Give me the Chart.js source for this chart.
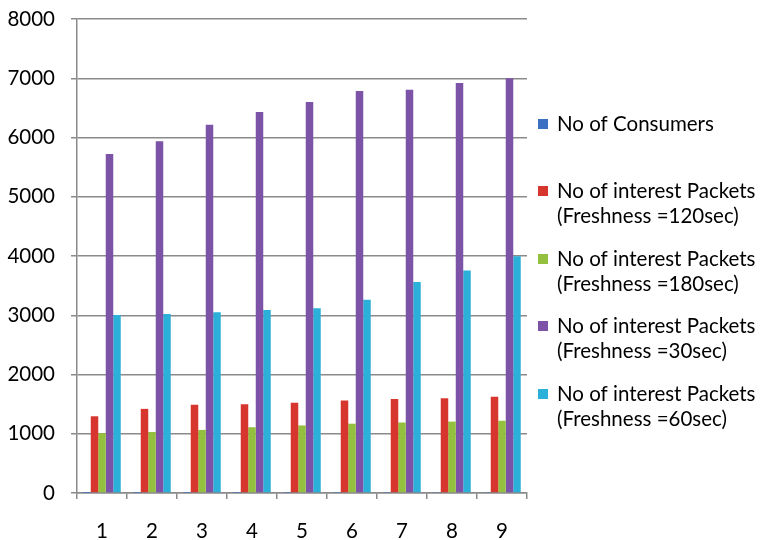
<!DOCTYPE html>
<html>
<head>
<meta charset="utf-8">
<script src="https://cdn.jsdelivr.net/npm/chart.js@4.4.1/dist/chart.umd.min.js"></script>
<style>
  html, body { margin: 0; padding: 0; background: #ffffff; }
  #wrap { width: 765px; height: 540px; position: relative; }
</style>
</head>
<body>
<div id="wrap"><canvas id="c" width="765" height="540"></canvas></div>
<script>
// Categories and tick labels
const categories = ['1', '2', '3', '4', '5', '6', '7', '8', '9'];
const yTicks = [0, 1000, 2000, 3000, 4000, 5000, 6000, 7000, 8000];

// Series
const consumers = [1, 2, 3, 4, 5, 6, 7, 8, 9];
const fresh120 = [1295, 1420, 1490, 1500, 1525, 1560, 1585, 1600, 1625];
const fresh180 = [1010, 1030, 1065, 1110, 1140, 1170, 1190, 1205, 1220];
const fresh30  = [5720, 5935, 6215, 6430, 6600, 6785, 6805, 6920, 7000];
const fresh60  = [3005, 3020, 3050, 3090, 3120, 3260, 3560, 3755, 3995];

const seriesNames = [
  ['No of Consumers'],
  ['No of interest Packets', '(Freshness =120sec)'],
  ['No of interest Packets', '(Freshness =180sec)'],
  ['No of interest Packets', '(Freshness =30sec)'],
  ['No of interest Packets', '(Freshness =60sec)']
];
const seriesColors = ['#3C70C2', '#D7362F', '#93C03E', '#7C53A7', '#2BB0D9'];
const seriesData = [consumers, fresh120, fresh180, fresh30, fresh60];

const FONT = 'Lato, "Open Sans", sans-serif';
const FONT_SIZE = 20.5;

// Legend on the right, drawn on the canvas
const sideLegend = {
  id: 'sideLegend',
  afterDraw(chart) {
    const ctx = chart.ctx;
    ctx.save();
    ctx.font = FONT_SIZE + 'px ' + FONT;
    ctx.textBaseline = 'middle';
    ctx.textAlign = 'left';
    const rows = [124, 191, 259, 326, 394];
    chart.data.datasets.forEach((ds, i) => {
      const y = rows[i];
      ctx.fillStyle = ds.backgroundColor;
      ctx.fillRect(538, y - 5, 10, 10);
      ctx.fillStyle = '#000000';
      ds.labelLines.forEach((line, k) => {
        ctx.fillText(line, 557, y + k * 25);
      });
    });
    ctx.restore();
  }
};

new Chart(document.getElementById('c'), {
  type: 'bar',
  data: {
    labels: categories,
    datasets: seriesData.map((d, i) => ({
      label: seriesNames[i].join(' '),
      labelLines: seriesNames[i],
      data: d,
      backgroundColor: seriesColors[i],
      borderWidth: 0,
      categoryPercentage: 0.75,
      barPercentage: 1.0
    }))
  },
  options: {
    responsive: false,
    animation: false,
    devicePixelRatio: 1,
    layout: { padding: { top: 19, right: 238, bottom: 0, left: 0 } },
    plugins: {
      legend: { display: false },
      tooltip: { enabled: false }
    },
    scales: {
      x: {
        grid: {
          display: true,
          offset: true,
          drawOnChartArea: false,
          drawTicks: true,
          tickLength: 6,
          color: '#8a8a8a',
          lineWidth: 1.5
        },
        border: { display: true, color: '#8a8a8a', width: 1.5 },
        ticks: { color: '#000000', font: { family: FONT, size: FONT_SIZE }, padding: 20 },
        afterFit(scale) {
          scale.height = 47;
          scale.paddingLeft = 0;
          scale.paddingRight = 0;
        }
      },
      y: {
        min: 0,
        max: 8000,
        afterBuildTicks(scale) { scale.ticks = yTicks.map(v => ({ value: v })); },
        grid: {
          color: '#8a8a8a',
          lineWidth: 1.5,
          drawTicks: true,
          tickLength: 6
        },
        border: { display: true, color: '#8a8a8a', width: 1.5 },
        ticks: {
          color: '#000000',
          font: { family: FONT, size: FONT_SIZE },
          padding: 16,
          callback: v => String(v)
        },
        afterFit(scale) {
          scale.width = 77;
          scale.paddingTop = 0;
          scale.paddingBottom = 0;
        }
      }
    }
  },
  plugins: [sideLegend]
});
</script>
</body>
</html>
